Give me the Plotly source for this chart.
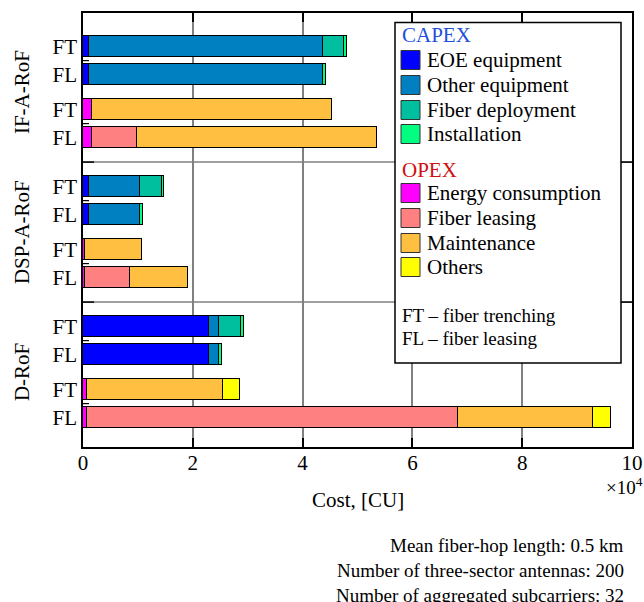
import plotly.graph_objects as go

# ---------------- data ----------------
groups = ["IF-A-RoF", "DSP-A-RoF", "D-RoF"]
bar_labels = ["FT", "FL", "FT", "FL"] * 3
bar_pos = [0, 1, 2.25, 3.25, 5, 6, 7.25, 8.25, 10, 11, 12.25, 13.25]
group_bounds = [4.125, 9.125]
minor_ticks = [0.5, 2.75, 5.5, 7.75, 10.5, 12.75]

# costs in CU (bars top to bottom)
eoe_equipment   = [1150, 1150, 0, 0, 1150, 1150, 0, 0, 22870, 22870, 0, 0]
other_equipment = [42520, 42520, 0, 0, 9310, 9310, 0, 0, 1820, 1820, 0, 0]
fiber_deploy    = [3850, 0, 0, 0, 3900, 0, 0, 0, 4050, 0, 0, 0]
installation    = [550, 550, 0, 0, 400, 480, 0, 0, 600, 550, 0, 0]
energy          = [0, 0, 1580, 1580, 0, 0, 430, 430, 0, 0, 730, 730]
fiber_leasing   = [0, 0, 0, 8330, 0, 0, 0, 8200, 0, 0, 0, 67500]
maintenance     = [0, 0, 43850, 43700, 0, 0, 10400, 10460, 0, 0, 24700, 24700]
others          = [0, 0, 0, 0, 0, 0, 0, 0, 0, 0, 3100, 3160]

capex_names = ["EOE equipment", "Other equipment", "Fiber deployment", "Installation"]
opex_names = ["Energy consumption", "Fiber leasing", "Maintenance", "Others"]
capex_colors = ["#0000FF", "#0080C0", "#00BF9F", "#00FF80"]
opex_colors = ["#FF00FF", "#FF8080", "#FFBF40", "#FFFF00"]

x_tickvals = [0, 20000, 40000, 60000, 80000, 100000]
x_ticktext = ["0", "2", "4", "6", "8", "10"]

notes = ["Mean fiber-hop length: 0.5 km",
         "Number of three-sector antennas: 200",
         "Number of aggregated subcarriers: 32"]

FONT = "'Liberation Serif', 'Times New Roman', serif"

# ---------------- geometry helpers (pixel -> paper) ----------------
L, R, T, B = 83, 632, 13, 447
W, H = R - L, B - T
def X(px): return (px - L) / W
def Y(py): return (B - py) / H

series = [eoe_equipment, other_equipment, fiber_deploy, installation,
          energy, fiber_leasing, maintenance, others]
names = capex_names + opex_names
colors = capex_colors + opex_colors

fig = go.Figure()
for vals, nm, col in zip(series, names, colors):
    fig.add_trace(go.Bar(
        x=vals, y=bar_pos, orientation="h", name=nm, width=0.75,
        marker=dict(color=col, line=dict(color="black", width=1)),
        showlegend=False))

shapes = []
# group separators (grid-like)
for b in group_bounds:
    shapes.append(dict(type="line", xref="paper", yref="y", x0=0, x1=1, y0=b, y1=b,
                       line=dict(color="#808080", width=1.5), layer="below"))
    shapes.append(dict(type="line", xref="paper", yref="y", x0=0, x1=11 / W, y0=b, y1=b,
                       line=dict(color="black", width=1.5), layer="above"))
    shapes.append(dict(type="line", xref="paper", yref="y", x0=1 - 11 / W, x1=1, y0=b, y1=b,
                       line=dict(color="black", width=1.5), layer="above"))
for m in minor_ticks:
    shapes.append(dict(type="line", xref="paper", yref="y", x0=0, x1=6 / W, y0=m, y1=m,
                       line=dict(color="black", width=1.2), layer="above"))

# legend box
shapes.append(dict(type="rect", xref="paper", yref="paper",
                   x0=X(395), x1=X(621), y0=Y(363), y1=Y(22.5),
                   fillcolor="white", line=dict(color="black", width=1.5), layer="above"))

annotations = []
capex_rows = [60, 85, 110, 134]
opex_rows = [193, 218, 243, 267]
annotations.append(dict(text="CAPEX", x=X(400), y=Y(35), xref="paper", yref="paper",
                        xanchor="left", yanchor="middle", showarrow=False,
                        font=dict(family=FONT, size=21, color="#1E50DC")))
annotations.append(dict(text="OPEX", x=X(400), y=Y(170), xref="paper", yref="paper",
                        xanchor="left", yanchor="middle", showarrow=False,
                        font=dict(family=FONT, size=21, color="#D01010")))
for rows, nms, cols in ((capex_rows, capex_names, capex_colors),
                        (opex_rows, opex_names, opex_colors)):
    for r, nm, col in zip(rows, nms, cols):
        shapes.append(dict(type="rect", xref="paper", yref="paper",
                           x0=X(401), x1=X(420), y0=Y(r + 9.5), y1=Y(r - 9.5),
                           fillcolor=col, line=dict(color="#333333", width=1), layer="above"))
        annotations.append(dict(text=nm, x=X(425), y=Y(r), xref="paper", yref="paper",
                                xanchor="left", yanchor="middle", showarrow=False,
                                font=dict(family=FONT, size=21, color="black")))
annotations.append(dict(text="FT \u2013 fiber trenching", x=X(400), y=Y(315), xref="paper",
                        yref="paper", xanchor="left", yanchor="middle", showarrow=False,
                        font=dict(family=FONT, size=19, color="black")))
annotations.append(dict(text="FL \u2013 fiber leasing", x=X(400), y=Y(338), xref="paper",
                        yref="paper", xanchor="left", yanchor="middle", showarrow=False,
                        font=dict(family=FONT, size=19, color="black")))

# group labels
for g, i in zip(groups, range(3)):
    yc = (bar_pos[4 * i] + bar_pos[4 * i + 3]) / 2
    annotations.append(dict(text=g, x=X(22), y=yc, xref="paper", yref="y",
                            xanchor="center", yanchor="middle", textangle=-90,
                            showarrow=False, font=dict(family=FONT, size=21, color="black")))

# axis title, exponent, notes
annotations.append(dict(text="Cost, [CU]", x=X(358), y=Y(500), xref="paper", yref="paper",
                        xanchor="center", yanchor="middle", showarrow=False,
                        font=dict(family=FONT, size=21, color="black")))
annotations.append(dict(text="\u00d710<sup>4</sup>", x=X(604), y=Y(486), xref="paper",
                        yref="paper", xanchor="left", yanchor="middle", showarrow=False,
                        font=dict(family=FONT, size=19, color="black")))
for k, t in enumerate(notes):
    annotations.append(dict(text=t, x=X(626), y=Y(545 + 25 * k), xref="paper", yref="paper",
                            xanchor="right", yanchor="middle", showarrow=False,
                            font=dict(family=FONT, size=19, color="black")))

fig.update_layout(
    width=644, height=602,
    margin=dict(l=L, r=644 - R, t=T, b=602 - B, pad=0, autoexpand=False),
    paper_bgcolor="white", plot_bgcolor="white",
    barmode="stack", bargap=0,
    font=dict(family=FONT, size=21, color="black"),
    shapes=shapes, annotations=annotations,
    xaxis=dict(range=[0, 100000], tickvals=x_tickvals, ticktext=x_ticktext,
               showgrid=True, gridcolor="#808080", gridwidth=1.5,
               showline=True, linecolor="black", linewidth=1.5, mirror="ticks",
               ticks="inside", ticklen=9, tickwidth=1.5, tickcolor="black",
               ticklabelstandoff=-4,
               zeroline=False, automargin=False, tickfont=dict(family=FONT, size=21)),
    yaxis=dict(range=[14.3, -1.2], tickvals=bar_pos, ticktext=bar_labels,
               showgrid=False, showline=True, linecolor="black", linewidth=1.5,
               mirror=True, ticks="", zeroline=False, automargin=False,
               tickfont=dict(family=FONT, size=21)),
)

fig.write_html("out.html",
               config={"displayModeBar": False},
               post_script="document.body.style.margin='0';"
                           "document.body.style.overflow='hidden';")
